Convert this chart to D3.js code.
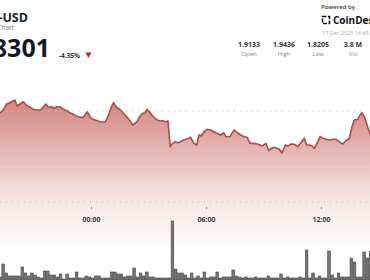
<!DOCTYPE html>
<html>
<head>
<meta charset="utf-8">
<script src="https://cdn.jsdelivr.net/npm/d3@7"></script>
<style>
  body { margin: 0; background: #fff; }
  svg { display: block; font-family: "Open Sans", sans-serif; }
</style>
</head>
<body>
<div id="chart"></div>
<script>
// price trace, minutes from 00:00 on 17 Dec 2025
var priceMinutes = [-285, -275, -264, -254, -243, -238, -231, -222, -212, -203, -191, -181, -170, -157, -149, -141, -134, -123, -116, -107,
    -97, -87, -76, -66, -57, -47, -34, -24, -12, -3, 5, 13, 29, 45, 55, 64, 71, 78, 92, 107,
    118, 131, 144, 154, 162, 170, 175, 183, 193, 207, 217, 224, 233, 241, 248, 256, 264, 272, 280, 290,
    307, 312, 322, 331, 338, 345, 354, 364, 375, 390, 406, 416, 422, 435, 448, 458, 469, 479, 489, 498,
    510, 521, 536, 547, 557, 564, 573, 581, 590, 598, 608, 616, 626, 636, 647, 657, 668, 675, 683, 692,
    699, 710, 717, 725, 736, 746, 757, 767, 777, 788, 798, 809, 817, 824, 835, 840, 848, 856, 866, 873, 889];
var priceValues = [1.8978, 1.9010, 1.9067, 1.9080, 1.9099, 1.9106, 1.9048, 1.9067, 1.9089, 1.9058, 1.9036, 1.9016, 1.9010, 1.9010, 1.9041, 1.9067, 1.9036, 1.9041, 1.9026, 1.9041,
    1.9041, 1.9016, 1.9003, 1.8984, 1.8971, 1.8952, 1.8939, 1.8939, 1.8993, 1.8945, 1.8920, 1.8913, 1.8897, 1.8894, 1.8962, 1.9041, 1.9080, 1.9041, 1.9010, 1.8962,
    1.8920, 1.8865, 1.8897, 1.8952, 1.8978, 1.8984, 1.9016, 1.8993, 1.8952, 1.8913, 1.8904, 1.8907, 1.8897, 1.8904, 1.8657, 1.8689, 1.8705, 1.8695, 1.8705, 1.8721,
    1.8738, 1.8747, 1.8689, 1.8673, 1.8769, 1.8760, 1.8801, 1.8824, 1.8817, 1.8791, 1.8769, 1.8791, 1.8753, 1.8753, 1.8817, 1.8791, 1.8769, 1.8753, 1.8747, 1.8689,
    1.8689, 1.8683, 1.8663, 1.8689, 1.8618, 1.8641, 1.8651, 1.8641, 1.8632, 1.8593, 1.8673, 1.8663, 1.8683, 1.8680, 1.8657, 1.8695, 1.8738, 1.8673, 1.8673, 1.8663,
    1.8641, 1.8705, 1.8753, 1.8738, 1.8728, 1.8721, 1.8728, 1.8728, 1.8705, 1.8683, 1.8714, 1.8738, 1.8849, 1.8913, 1.8920, 1.8952, 1.8984, 1.8945, 1.8849, 1.8786, 1.8720];

// 10 minute volume bars (thousands), first bar starts at -290 min
var volStart = -290;
var volValues = [30, 160, 70, 40, 40, 40, 40, 130, 70, 40, 70, 50, 30, 20, 90, 90, 50, 50, 30, 60,
    10, 60, 20, 20, 80, 20, 20, 40, 30, 20, 40, 40, 20, 20, 20, 80, 80, 60, 60, 30,
    40, 40, 120, 30, 70, 40, 80, 30, 30, 20, 20, 20, 20, 20, 590, 110, 70, 70, 50, 20,
    70, 20, 40, 20, 80, 20, 30, 30, 80, 20, 30, 30, 30, 100, 40, 30, 20, 30, 20, 20,
    30, 20, 20, 20, 40, 20, 20, 20, 60, 20, 30, 20, 20, 20, 30, 20, 300, 20, 70, 20,
    40, 20, 20, 290, 50, 20, 70, 30, 30, 30, 220, 180, 30, 30, 280, 220, 290];

var gridPrices = [1.90, 1.85];
var tickHours = [0, 6, 12];

var statValues = ["1.9133", "1.9436", "1.8205", "3.8 M"];
var statLabels = ["Open", "High", "Low", "Vol"];

var width = 370, height = 280;
var day = new Date(2025, 11, 17);
function atMinute(m) { return new Date(day.getTime() + m * 60000); }

var svg = d3.select("#chart").append("svg")
    .attr("width", width)
    .attr("height", height);

var x = d3.scaleTime()
    .domain([atMinute(0), atMinute(360)])
    .range([91, 206]);

var y = d3.scaleLinear()
    .domain([1.85, 1.90])
    .range([163, 111]);

var yVol = d3.scaleLinear()
    .domain([0, 600])
    .range([280, 220]);

var defs = svg.append("defs");
var grad = defs.append("linearGradient")
    .attr("id", "areaFill")
    .attr("gradientUnits", "userSpaceOnUse")
    .attr("x1", 0).attr("x2", 0)
    .attr("y1", 100).attr("y2", 250);
grad.append("stop").attr("offset", 0).attr("stop-color", "#c45c56").attr("stop-opacity", 0.75);
grad.append("stop").attr("offset", 0.65).attr("stop-color", "#c45c56").attr("stop-opacity", 0.17);
grad.append("stop").attr("offset", 1).attr("stop-color", "#c45c56").attr("stop-opacity", 0);

var prices = priceMinutes.map(function (m, i) { return { t: atMinute(m), p: priceValues[i] }; });

// area under the price line
svg.append("path")
    .datum(prices)
    .attr("fill", "url(#areaFill)")
    .attr("d", d3.area()
        .x(function (d) { return x(d.t); })
        .y0(270)
        .y1(function (d) { return y(d.p); }));

// dotted grid lines
svg.append("g")
    .selectAll("line")
    .data(gridPrices)
    .enter().append("line")
    .attr("x1", 0).attr("x2", width)
    .attr("y1", function (d) { return y(d); })
    .attr("y2", function (d) { return y(d); })
    .attr("stroke", "#c8c8c8")
    .attr("stroke-width", 1)
    .attr("stroke-dasharray", "1,5");

svg.append("line")
    .attr("x1", 0).attr("x2", width)
    .attr("y1", 202).attr("y2", 202)
    .attr("stroke", "#c8b8b8")
    .attr("stroke-dasharray", "1,5");

// price line
svg.append("path")
    .datum(prices)
    .attr("fill", "none")
    .attr("stroke", "#b04b46")
    .attr("stroke-width", 1.6)
    .attr("stroke-linejoin", "round")
    .attr("d", d3.line()
        .x(function (d) { return x(d.t); })
        .y(function (d) { return y(d.p); }));

// time axis
var xAxis = svg.append("g")
    .attr("transform", "translate(0,207)")
    .call(d3.axisBottom(x)
        .tickValues(tickHours.map(function (h) { return atMinute(h * 60); }))
        .tickFormat(d3.timeFormat("%H:%M"))
        .tickSize(2)
        .tickPadding(8));
xAxis.select(".domain").remove();
xAxis.selectAll(".tick line").attr("stroke", "#999");
xAxis.selectAll(".tick text")
    .attr("fill", "#3a3a3a")
    .style("font-size", "7px")
    .style("font-weight", "700")
    .style("font-family", "'Open Sans', sans-serif");

// volume bars
svg.append("g")
    .selectAll("rect")
    .data(volValues)
    .enter().append("rect")
    .attr("x", function (d, i) { return x(atMinute(volStart + i * 10)) + 0.3; })
    .attr("width", function (d, i) { return x(atMinute(volStart + i * 10 + 10)) - x(atMinute(volStart + i * 10)) - 0.6; })
    .attr("y", function (d) { return yVol(d); })
    .attr("height", function (d) { return 280 - yVol(d); })
    .attr("fill", "#767676")
    .attr("stroke", "#454545")
    .attr("stroke-width", 0.6);

// header, left
svg.append("text")
    .attr("x", 28).attr("y", 22)
    .attr("text-anchor", "end")
    .style("font-size", "12.5px").style("font-weight", "700")
    .attr("fill", "#1b1f2a")
    .text("XRP-USD");

svg.append("text")
    .attr("x", 14).attr("y", 30)
    .attr("text-anchor", "end")
    .style("font-size", "6.5px")
    .attr("fill", "#777")
    .text("XRP Price Chart");

svg.append("text")
    .attr("x", 50).attr("y", 56.5)
    .attr("text-anchor", "end")
    .style("font-size", "25px").style("font-weight", "700")
    .attr("fill", "#141824")
    .text("1.8301");

svg.append("text")
    .attr("x", 59).attr("y", 57.5)
    .style("font-size", "6.5px").style("font-weight", "700")
    .attr("fill", "#333")
    .text("-4.35%");

svg.append("path")
    .attr("d", "M85.5,52.5 L91.5,52.5 L88.5,58 Z")
    .attr("fill", "#c41e26");

// header, right
svg.append("text")
    .attr("x", 321).attr("y", 9)
    .style("font-size", "6px").style("font-weight", "600")
    .attr("fill", "#333")
    .text("Powered by");

svg.append("rect")
    .attr("x", 322.5).attr("y", 16.5)
    .attr("width", 7).attr("height", 7)
    .attr("fill", "none")
    .attr("stroke", "#111")
    .attr("stroke-width", 1.6)
    .attr("stroke-dasharray", "4,1.5");

svg.append("text")
    .attr("x", 333).attr("y", 24)
    .style("font-size", "10px").style("font-weight", "700")
    .attr("fill", "#111")
    .text("CoinDesk");

svg.append("text")
    .attr("x", 322).attr("y", 35)
    .style("font-size", "5.5px")
    .attr("fill", "#aaa")
    .text("17 Dec 2025 16:45 UTC");

var statCenters = [249, 284, 318, 353];
svg.append("g").selectAll("text")
    .data(statValues)
    .enter().append("text")
    .attr("x", function (d, i) { return statCenters[i]; })
    .attr("y", 47)
    .attr("text-anchor", "middle")
    .style("font-size", "7px").style("font-weight", "700")
    .attr("fill", "#333")
    .text(function (d) { return d; });

svg.append("g").selectAll("text")
    .data(statLabels)
    .enter().append("text")
    .attr("x", function (d, i) { return statCenters[i]; })
    .attr("y", 56)
    .attr("text-anchor", "middle")
    .style("font-size", "6px")
    .attr("fill", "#888")
    .text(function (d) { return d; });
</script>
</body>
</html>
